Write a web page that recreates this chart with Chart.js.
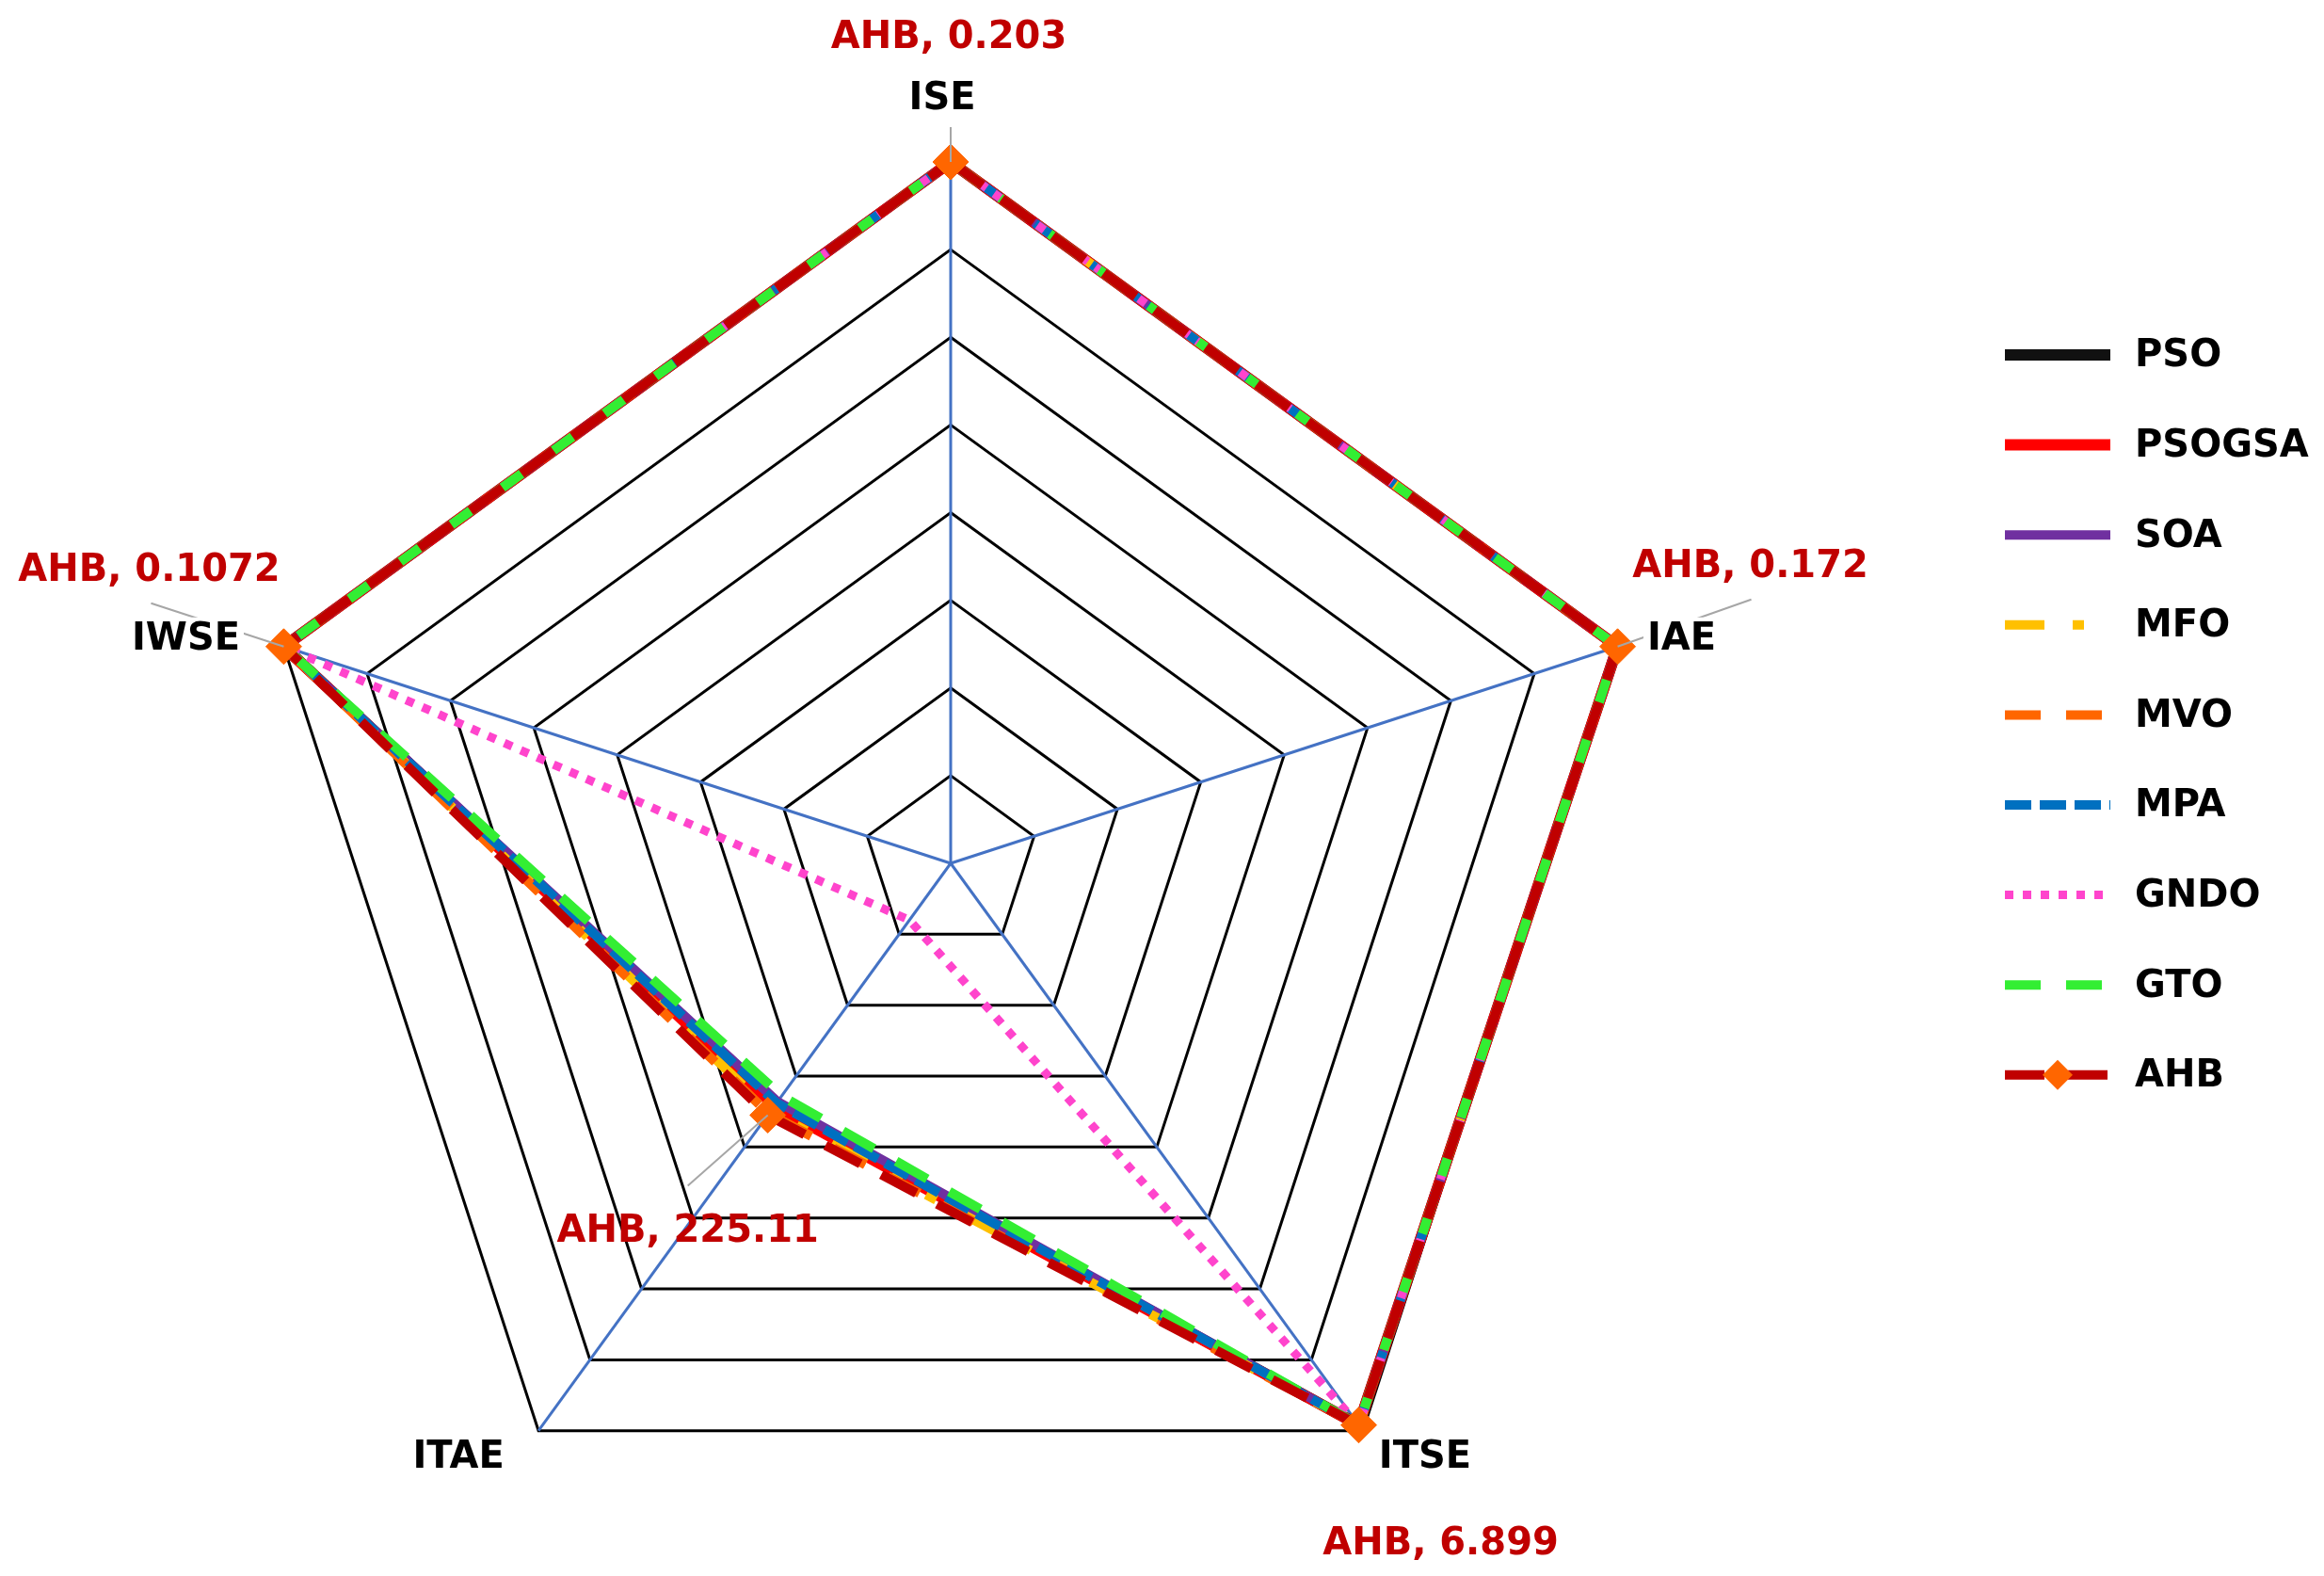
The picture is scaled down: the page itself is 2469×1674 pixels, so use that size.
<!DOCTYPE html>
<html>
<head>
<meta charset="utf-8">
<script src="https://cdn.jsdelivr.net/npm/chart.js@4.4.1/dist/chart.umd.min.js"></script>
<style>
  html, body { margin: 0; padding: 0; background: #fff; }
  canvas { display: block; }
</style>
</head>
<body>
<canvas id="myChart" width="2469" height="1674"></canvas>
<script>
const axes = ['ISE', 'IAE', 'ITSE', 'ITAE', 'IWSE']

const pso    = [8, 8, 7.92, 3.40, 8]
const psogsa = [8, 8, 7.92, 3.42, 8]
const soa    = [8, 8, 7.92, 3.36, 8]
const mfo    = [8, 8, 7.92, 3.50, 8]
const mvo    = [8, 8, 7.92, 3.53, 8]
const mpa    = [8, 8, 7.92, 3.38, 8]
const gndo   = [8, 8, 7.92, 0.80, 8]
const gto    = [8, 8, 7.92, 3.28, 8]
const ahb    = [8, 8, 7.92, 3.55, 8]

// values printed next to the AHB markers
const ahbText = ['0.203', '0.172', '6.899', '225.11', '0.1072']

const names  = ['PSO', 'PSOGSA', 'SOA', 'MFO', 'MVO', 'MPA', 'GNDO', 'GTO', 'AHB']
const series = [pso, psogsa, soa, mfo, mvo, mpa, gndo, gto, ahb]
const colors = ['#111111', '#FF0000', '#7030A0', '#FFC000', '#FF6600', '#0070C0', '#FF44CC', '#33EE33', '#C00000']
const widths = [12, 12, 10, 10, 10, 10, 9, 10, 10]
const dashes = [[], [], [], [42, 30, 12, 30, 12, 30], [38, 27], [28, 9], [9, 10], [38, 27], [42, 25]]

const FONT = 'bold 40px "DejaVu Sans"'

const datasets = names.map((name, i) => ({
    label: name,
    data: series[i],
    borderColor: colors[i],
    borderWidth: widths[i],
    borderDash: dashes[i],
    borderCapStyle: 'butt',
    borderJoinStyle: 'round',
    fill: false,
    tension: 0,
    order: names.length - i,
    pointRadius: name === 'AHB' ? 19 : 0,
    pointStyle: 'rectRot',
    pointBackgroundColor: '#FF6600',
    pointBorderColor: '#FF6600',
    pointBorderWidth: 1,
}))

// label placement relative to the axis end / the AHB points
const axisOffsets = [[-9, -68], [68, -9], [66, 27], [-85, 27], [-104, -9]]
const tagOffsets = [[-2, -133], [141, -86], [87, 125], [-85, 122], [-143, -82]]
const leaderEnds = [[0, -37], [142, -50], null, [-85, 75], [-141, -46]]

const labelsPlugin = {
    id: 'labels',
    afterDatasetsDraw(chart) {
        const ctx = chart.ctx
        const scale = chart.scales.r
        const meta = chart.getDatasetMeta(names.indexOf('AHB'))
        ctx.save()

        // leader lines
        ctx.strokeStyle = '#A6A6A6'
        ctx.lineWidth = 2
        meta.data.forEach((pt, i) => {
            const e = leaderEnds[i]
            if (!e) return
            ctx.beginPath()
            ctx.moveTo(pt.x, pt.y)
            ctx.lineTo(pt.x + e[0], pt.y + e[1])
            ctx.stroke()
        })

        // axis names
        ctx.font = FONT
        ctx.textAlign = 'center'
        ctx.textBaseline = 'middle'
        axes.forEach((name, i) => {
            const p = scale.getPointPosition(i, scale.drawingArea)
            const x = p.x + axisOffsets[i][0]
            const y = p.y + axisOffsets[i][1]
            const w = ctx.measureText(name).width
            ctx.fillStyle = '#fff'
            ctx.fillRect(x - w / 2 - 4, y - 22, w + 8, 44)
            ctx.fillStyle = '#000'
            ctx.fillText(name, x, y + 2)
        })

        // AHB value tags
        ctx.fillStyle = '#C00000'
        meta.data.forEach((pt, i) => {
            ctx.fillText('AHB, ' + ahbText[i], pt.x + tagOffsets[i][0], pt.y + tagOffsets[i][1] + 2)
        })
        ctx.restore()
    },
    afterDraw(chart) {
        const ctx = chart.ctx
        ctx.save()
        const x0 = 2130, x1 = 2242, tx = 2268
        names.forEach((name, i) => {
            const y = 377 + i * 95.6
            ctx.beginPath()
            ctx.strokeStyle = colors[i]
            ctx.lineWidth = widths[i]
            ctx.setLineDash(dashes[i])
            ctx.lineCap = 'butt'
            ctx.moveTo(x0, y)
            ctx.lineTo(x1, y)
            ctx.stroke()
            ctx.setLineDash([])
            if (name === 'AHB') {
                const cx = (x0 + x1) / 2, r = 16
                ctx.beginPath()
                ctx.moveTo(cx - r, y)
                ctx.lineTo(cx, y - r)
                ctx.lineTo(cx + r, y)
                ctx.lineTo(cx, y + r)
                ctx.closePath()
                ctx.fillStyle = '#FF6600'
                ctx.fill()
            }
            ctx.font = FONT
            ctx.fillStyle = '#000'
            ctx.textAlign = 'left'
            ctx.textBaseline = 'middle'
            ctx.fillText(name, tx, y + 2)
        })
        ctx.restore()
    }
}

const config = {
    type: 'radar',
    data: { labels: axes, datasets: datasets },
    options: {
        responsive: false,
        devicePixelRatio: 1,
        animation: false,
        layout: { padding: { left: 265, top: 172, right: 714, bottom: 12 } },
        plugins: {
            legend: { display: false },
            tooltip: { enabled: false },
        },
        scales: {
            r: {
                min: 0,
                max: 8,
                ticks: { display: false, stepSize: 1 },
                pointLabels: { display: false },
                grid: { color: '#000000', lineWidth: 3, circular: false },
                angleLines: { color: '#4472C4', lineWidth: 3 },
            }
        }
    },
    plugins: [labelsPlugin]
}

const myChart = new Chart(document.getElementById('myChart'), config)
</script>
</body>
</html>
